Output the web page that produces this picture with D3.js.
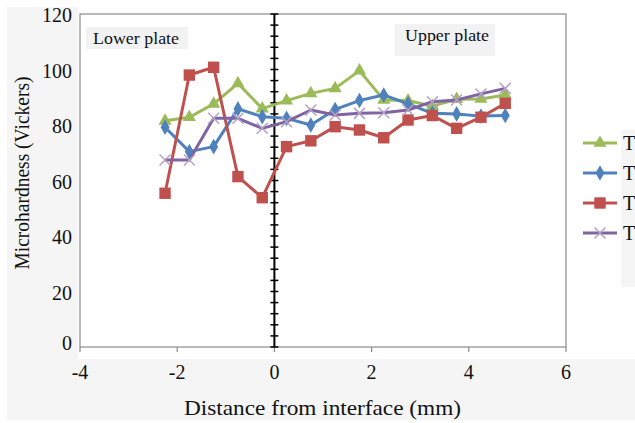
<!DOCTYPE html>
<meta charset="utf-8">
<html lang="en">
  <head>
    <style>
      body { margin: 0; background-color: #fff; }
      svg text { font-family: "Liberation Serif", "DejaVu Serif", "Tinos", "Times New Roman", serif; }
      .series-line { fill: none; stroke-width: 3px; stroke-linejoin: round; }
    </style>
  </head>
  <body>
    <script src="https://cdn.jsdelivr.net/npm/d3@7"></script>
    <svg></svg>
    <script>

      // distance from interface (mm)
      var distances = [-2.25, -1.75, -1.25, -0.75, -0.25, 0.25, 0.75, 1.25, 1.75, 2.25, 2.75, 3.25, 3.75, 4.25, 4.75];

      var seriesNames = ["T1", "T2", "T3", "T4"];
      var t1Values = [81.5, 82.8, 87.6, 95.0, 85.9, 88.8, 91.4, 93.2, 99.6, 89.0, 88.8, 86.8, 89.3, 89.4, 90.8];
      var t2Values = [79.2, 70.4, 72.2, 85.8, 83.0, 82.4, 80.0, 85.6, 88.8, 90.8, 87.6, 84.2, 84.0, 83.2, 83.4];
      var t3Values = [55.4, 98.0, 100.8, 61.4, 53.8, 72.2, 74.3, 79.4, 78.2, 75.4, 81.8, 83.4, 78.8, 82.8, 87.8];
      var t4Values = [67.4, 67.4, 82.4, 82.4, 78.8, 81.2, 85.4, 83.6, 84.2, 84.4, 85.4, 88.4, 89.0, 91.2, 93.2];

      var xTicks = [-4, -2, 0, 2, 4, 6];
      var yTicks = [0, 20, 40, 60, 80, 100, 120];

      var width = 635, height = 423;
      var margin = {left: 80, right: 69, top: 14, bottom: 76};

      var svg = d3.select("svg")
        .attr("width", width)
        .attr("height", height);

      var xScale = d3.scaleLinear()
        .domain([-4, 6])
        .range([margin.left, width - margin.right]);

      var yScale = d3.scaleLinear()
        .domain([0, 120])
        .range([height - margin.bottom, margin.top]);

      // grey text-box backgrounds
      svg.append("rect").attr("x", 7).attr("y", 7).attr("width", 71).attr("height", 352).attr("fill", "#f5f5f5");
      svg.append("rect").attr("x", 7).attr("y", 359).attr("width", 628).attr("height", 61).attr("fill", "#f5f5f5");
      svg.append("rect").attr("x", 621).attr("y", 130).attr("width", 14).attr("height", 157).attr("fill", "#f5f5f5");

      // plot border
      svg.append("rect")
        .attr("x", xScale(-4)).attr("y", yScale(120))
        .attr("width", xScale(6) - xScale(-4)).attr("height", yScale(0) - yScale(120))
        .attr("fill", "#fff").attr("stroke", "#8a8a8a").attr("stroke-width", 1.2);

      // bottom axis ticks
      svg.selectAll(".xtick").data(xTicks).enter().append("line")
        .attr("x1", function(d) { return xScale(d); })
        .attr("x2", function(d) { return xScale(d); })
        .attr("y1", yScale(0)).attr("y2", yScale(0) + 5)
        .attr("stroke", "#8a8a8a").attr("stroke-width", 1.2);

      svg.selectAll(".xlabel").data(xTicks).enter().append("text")
        .attr("x", function(d) { return xScale(d); })
        .attr("y", 379)
        .attr("text-anchor", "middle")
        .attr("fill", "#111")
        .style("font-size", "20px")
        .text(function(d) { return d; });

      svg.selectAll(".ylabel").data(yTicks).enter().append("text")
        .attr("x", 72)
        .attr("y", function(d) { return yScale(d) + (d === 0 ? -4 : 1); })
        .attr("dy", "0.35em")
        .attr("text-anchor", "end")
        .attr("fill", "#111")
        .style("font-size", "20px")
        .text(function(d) { return d; });

      // vertical axis through the interface with cross ticks
      svg.append("line")
        .attr("x1", xScale(0)).attr("x2", xScale(0))
        .attr("y1", yScale(0)).attr("y2", yScale(120))
        .attr("stroke", "#000").attr("stroke-width", 2);

      svg.selectAll(".ctick").data(d3.range(0, 121, 4)).enter().append("line")
        .attr("x1", xScale(0) - 4).attr("x2", xScale(0) + 4)
        .attr("y1", function(d) { return yScale(d); })
        .attr("y2", function(d) { return yScale(d); })
        .attr("stroke", "#000").attr("stroke-width", 1.5);

      // axis titles
      svg.append("text")
        .attr("transform", "translate(29," + 173 + ") rotate(-90)")
        .attr("text-anchor", "middle")
        .attr("fill", "#111")
        .attr("textLength", 193).attr("lengthAdjust", "spacingAndGlyphs")
        .style("font-size", "21px")
        .text("Microhardness (Vickers)");

      svg.append("text")
        .attr("x", 184).attr("y", 415)
        .attr("fill", "#111")
        .attr("textLength", 277).attr("lengthAdjust", "spacingAndGlyphs")
        .style("font-size", "21px")
        .text("Distance from interface (mm)");

      // plate annotations
      svg.append("rect").attr("x", 86).attr("y", 27).attr("width", 102).attr("height", 22).attr("fill", "#f2f2f2");
      svg.append("text").attr("x", 93).attr("y", 44)
        .attr("fill", "#111")
        .attr("textLength", 86).attr("lengthAdjust", "spacingAndGlyphs")
        .style("font-size", "17px").text("Lower plate");

      svg.append("rect").attr("x", 395).attr("y", 24).attr("width", 100).attr("height", 32).attr("fill", "#f2f2f2");
      svg.append("text").attr("x", 405).attr("y", 41)
        .attr("fill", "#111")
        .attr("textLength", 84).attr("lengthAdjust", "spacingAndGlyphs")
        .style("font-size", "17px").text("Upper plate");

      var series = [
        {name: seriesNames[0], values: t1Values, color: "#9bbb59", marker: "#9bbb59", symbol: d3.symbolTriangle, size: 75},
        {name: seriesNames[1], values: t2Values, color: "#4f81bd", marker: "#4f81bd", symbol: d3.symbolDiamond, size: 70},
        {name: seriesNames[2], values: t3Values, color: "#c0504d", marker: "#c0504d", symbol: d3.symbolSquare, size: 130},
        {name: seriesNames[3], values: t4Values, color: "#8064a2", marker: "#b3a2c7", symbol: d3.symbolCross, size: 0}
      ];

      var line = d3.line()
        .x(function(d, i) { return xScale(distances[i]); })
        .y(function(d) { return yScale(d); });

      function drawMarker(g, s, x, y) {
        if (s.name === "T4") {
          g.append("path")
            .attr("d", "M-5.5,-5.5L5.5,5.5M-5.5,5.5L5.5,-5.5")
            .attr("transform", "translate(" + x + "," + y + ")")
            .attr("stroke", s.marker).attr("stroke-width", 1.5).attr("fill", "none");
        } else {
          g.append("path")
            .attr("d", d3.symbol().type(s.symbol).size(s.size)())
            .attr("transform", "translate(" + x + "," + y + ")")
            .attr("fill", s.marker);
        }
      }

      series.forEach(function(s) {
        var g = svg.append("g");
        g.append("path")
          .attr("class", "series-line")
          .attr("stroke", s.color)
          .attr("d", line(s.values));
        s.values.forEach(function(v, i) {
          drawMarker(g, s, xScale(distances[i]), yScale(v));
        });
      });

      // legend (cut at the right edge, as in the source figure)
      var legendY = [143, 173, 203, 233];
      series.forEach(function(s, i) {
        var g = svg.append("g");
        g.append("line")
          .attr("x1", 583).attr("x2", 617)
          .attr("y1", legendY[i]).attr("y2", legendY[i])
          .attr("stroke", s.color).attr("stroke-width", 3);
        drawMarker(g, s, 600, legendY[i]);
        g.append("text")
          .attr("x", 623).attr("y", legendY[i])
          .attr("dy", "0.35em")
          .attr("fill", "#111")
          .style("font-size", "20px")
          .text(s.name);
      });

    </script>
  </body>
</html>
